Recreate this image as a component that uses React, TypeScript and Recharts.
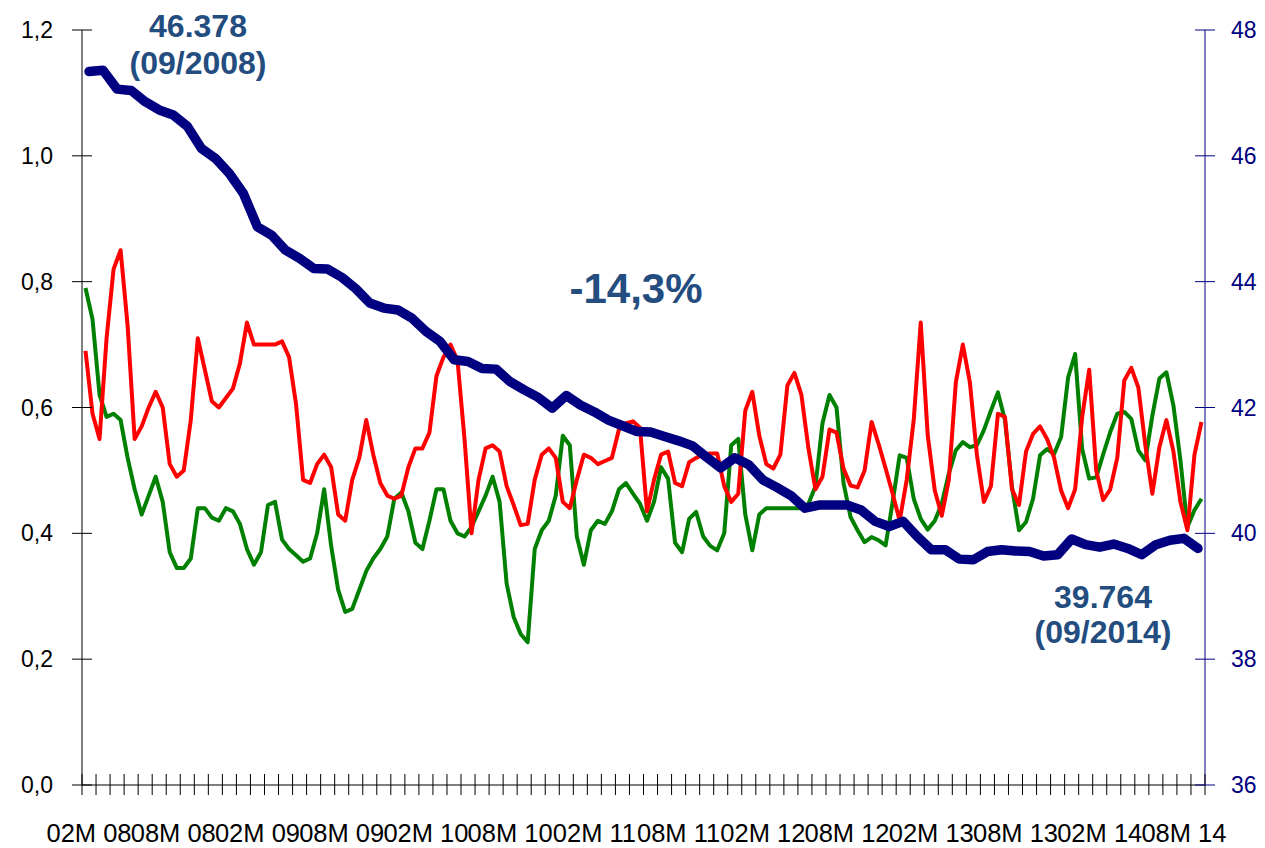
import React from "react";
import { LineChart, Line, XAxis, YAxis } from "recharts";

// x labels, one every 6 months (text as printed on the original axis)
const xLabels = [
  "02M 08", "08M 08", "02M 09", "08M 09", "02M 10", "08M 10", "02M 11",
  "08M 11", "02M 12", "08M 12", "02M 13", "08M 13", "02M 14", "08M 14",
];

// left axis series, two readings per month from 2008M02 to 2014M09
const redValues = [
  0.69, 0.59, 0.55, 0.71, 0.82, 0.85, 0.73, 0.55, 0.57, 0.6,
  0.625, 0.6, 0.51, 0.49, 0.5, 0.58, 0.71, 0.66, 0.61, 0.6,
  0.615, 0.63, 0.67, 0.735, 0.7, 0.7, 0.7, 0.7, 0.705, 0.68,
  0.605, 0.485, 0.48, 0.51, 0.525, 0.505, 0.43, 0.42, 0.485, 0.52,
  0.58, 0.525, 0.48, 0.46, 0.455, 0.46, 0.505, 0.535, 0.535, 0.56,
  0.65, 0.68, 0.7, 0.675, 0.55, 0.4, 0.485, 0.535, 0.54, 0.53,
  0.475, 0.445, 0.413, 0.415, 0.485, 0.525, 0.535, 0.52, 0.45, 0.44,
  0.485, 0.525, 0.52, 0.51, 0.515, 0.52, 0.565, 0.575, 0.578, 0.568,
  0.435, 0.485, 0.525, 0.53, 0.48, 0.475, 0.513, 0.52, 0.525, 0.527,
  0.527, 0.475, 0.45, 0.463, 0.595, 0.625, 0.555, 0.51, 0.503, 0.525,
  0.635, 0.655, 0.62, 0.535, 0.47, 0.49, 0.565, 0.56, 0.503, 0.476,
  0.473, 0.5, 0.577, 0.542, 0.503, 0.463, 0.42, 0.485, 0.58, 0.735,
  0.555, 0.468, 0.428, 0.485, 0.64, 0.7, 0.64, 0.525, 0.45, 0.475,
  0.59, 0.585, 0.47, 0.445, 0.53, 0.558, 0.57, 0.55, 0.52, 0.468,
  0.44, 0.47, 0.585, 0.66, 0.5, 0.453, 0.47, 0.52, 0.643, 0.663,
  0.632, 0.54, 0.463, 0.537, 0.58, 0.53, 0.45, 0.405, 0.525, 0.577,
];

const greenValues = [
  0.79, 0.74, 0.62, 0.585, 0.59, 0.58, 0.52, 0.47, 0.43, 0.46,
  0.49, 0.45, 0.37, 0.345, 0.345, 0.36, 0.44, 0.44, 0.425, 0.42,
  0.44, 0.435, 0.415, 0.375, 0.35, 0.37, 0.445, 0.45, 0.39, 0.375,
  0.365, 0.355, 0.36, 0.4, 0.47, 0.38, 0.31, 0.275, 0.28, 0.31,
  0.34, 0.36, 0.375, 0.395, 0.455, 0.465, 0.435, 0.385, 0.375, 0.42,
  0.47, 0.47, 0.42, 0.4, 0.395, 0.41, 0.435, 0.46, 0.49, 0.45,
  0.32, 0.267, 0.24, 0.227, 0.375, 0.405, 0.42, 0.46, 0.555, 0.54,
  0.395, 0.35, 0.405, 0.42, 0.415, 0.435, 0.47, 0.48, 0.463, 0.447,
  0.42, 0.45, 0.505, 0.487, 0.385, 0.37, 0.423, 0.434, 0.395, 0.38,
  0.373, 0.4, 0.54, 0.55, 0.43, 0.373, 0.43, 0.44, 0.44, 0.44,
  0.44, 0.44, 0.44, 0.447, 0.475, 0.575, 0.62, 0.6, 0.48, 0.426,
  0.405, 0.386, 0.394, 0.389, 0.381, 0.45, 0.524, 0.52, 0.455, 0.423,
  0.406, 0.42, 0.447, 0.495, 0.532, 0.545, 0.537, 0.54, 0.564, 0.595,
  0.624, 0.58, 0.474, 0.405, 0.418, 0.455, 0.524, 0.534, 0.526, 0.553,
  0.648, 0.685, 0.534, 0.487, 0.489, 0.526, 0.561, 0.59, 0.593, 0.582,
  0.532, 0.516, 0.587, 0.646, 0.656, 0.603, 0.516, 0.41, 0.437, 0.455,
];

// right axis series, monthly
const blueValues = [
  47.34, 47.36, 47.06, 47.04, 46.86, 46.73, 46.65, 46.47, 46.12, 45.96,
  45.72, 45.4, 44.87, 44.74, 44.5, 44.37, 44.21, 44.2, 44.07, 43.89,
  43.66, 43.58, 43.55, 43.42, 43.21, 43.05, 42.76, 42.73, 42.62, 42.61,
  42.41, 42.28, 42.16, 41.99, 42.19, 42.04, 41.93, 41.8, 41.71, 41.62,
  41.61, 41.54, 41.47, 41.39, 41.21, 41.04, 41.2, 41.09, 40.85, 40.73,
  40.6, 40.4, 40.45, 40.45, 40.45, 40.37, 40.19, 40.11, 40.19, 39.95,
  39.74, 39.74, 39.59, 39.58, 39.71, 39.74, 39.72, 39.71, 39.64, 39.66,
  39.91, 39.82, 39.78, 39.83, 39.76, 39.66, 39.82, 39.89, 39.92, 39.76,
];

const leftTicks = [0, 0.2, 0.4, 0.6, 0.8, 1.0, 1.2];
const rightTicks = [36, 38, 40, 42, 44, 46, 48];

// month index as x; labels sit in the middle of their month
const rows = [
  ...redValues.map((v, i) => ({ t: 0.25 + i * 0.5, red: v, green: greenValues[i] })),
  ...blueValues.map((v, m) => ({ t: m + 0.5, blue: v })),
].sort((a, b) => a.t - b.t);

const monthTicks = Array.from({ length: 81 }, (_, i) => i);
const labelTicks = xLabels.map((_, k) => k * 6 + 0.5);
const xTicks = [...monthTicks, ...labelTicks].sort((a, b) => a - b);

const FONT = '"Liberation Sans", Arial, sans-serif';
const NOTE = "#234C7F";

function XTick(props: any) {
  const { x, y, payload } = props;
  const v = payload.value;
  if (Number.isInteger(v)) {
    return <line x1={x} x2={x} y1={y - 11} y2={y + 10} stroke="#000" />;
  }
  const k = Math.round((v - 0.5) / 6);
  return (
    <text x={x} y={y + 57} textAnchor="middle" fontSize={25.5} fontFamily={FONT} fill="#000">
      {xLabels[k]}
    </text>
  );
}

function LeftTick(props: any) {
  const { x, y, payload } = props;
  return (
    <g>
      <line x1={x - 10} x2={x + 10} y1={y} y2={y} stroke="#000" />
      <text x={x - 29} y={y} dy={8} textAnchor="end" fontSize={23} fontFamily={FONT} fill="#000">
        {payload.value.toFixed(1).replace(".", ",")}
      </text>
    </g>
  );
}

function RightTick(props: any) {
  const { x, y, payload } = props;
  return (
    <g>
      <line x1={x - 10} x2={x + 10} y1={y} y2={y} stroke="#000080" />
      <text x={x + 26} y={y} dy={8} textAnchor="start" fontSize={23} fontFamily={FONT} fill="#000080">
        {payload.value}
      </text>
    </g>
  );
}

export default function App() {
  return (
    <div style={{ position: "absolute", left: 0, top: 0, width: 1265, height: 848, background: "#fff" }}>
      <LineChart width={1265} height={848} data={rows} margin={{ top: 30, right: 0, bottom: 0, left: 0 }}>
        <XAxis
          dataKey="t"
          type="number"
          domain={[0, 80]}
          ticks={xTicks}
          interval={0}
          height={63}
          tickSize={0}
          tickMargin={0}
          tickLine={false}
          tick={<XTick />}
          axisLine={{ stroke: "#000" }}
        />
        <YAxis
          yAxisId="left"
          orientation="left"
          domain={[0, 1.2]}
          ticks={leftTicks}
          interval={0}
          width={82}
          tickSize={0}
          tickMargin={0}
          tickLine={false}
          tick={<LeftTick />}
          axisLine={{ stroke: "#000" }}
        />
        <YAxis
          yAxisId="right"
          orientation="right"
          domain={[36, 48]}
          ticks={rightTicks}
          interval={0}
          width={60}
          tickSize={0}
          tickMargin={0}
          tickLine={false}
          tick={<RightTick />}
          axisLine={{ stroke: "#000080" }}
        />
        <Line yAxisId="left" type="linear" dataKey="green" stroke="#008000" strokeWidth={4}
          dot={false} connectNulls isAnimationActive={false} strokeLinejoin="round" />
        <Line yAxisId="left" type="linear" dataKey="red" stroke="#FF0000" strokeWidth={4}
          dot={false} connectNulls isAnimationActive={false} strokeLinejoin="round" />
        <Line yAxisId="right" type="linear" dataKey="blue" stroke="#000080" strokeWidth={9.5}
          dot={false} connectNulls isAnimationActive={false} strokeLinejoin="round" strokeLinecap="round" />
      </LineChart>
      <svg width={1265} height={848} style={{ position: "absolute", left: 0, top: 0, pointerEvents: "none" }}>
        <g fontFamily={FONT} fontWeight="bold" fill={NOTE} textAnchor="middle">
          <text x={198} y={37} fontSize={32}>46.378</text>
          <text x={198} y={74} fontSize={32}>(09/2008)</text>
          <text x={636} y={303} fontSize={42}>-14,3%</text>
          <text x={1103} y={608} fontSize={32}>39.764</text>
          <text x={1103} y={643} fontSize={32}>(09/2014)</text>
        </g>
      </svg>
    </div>
  );
}
